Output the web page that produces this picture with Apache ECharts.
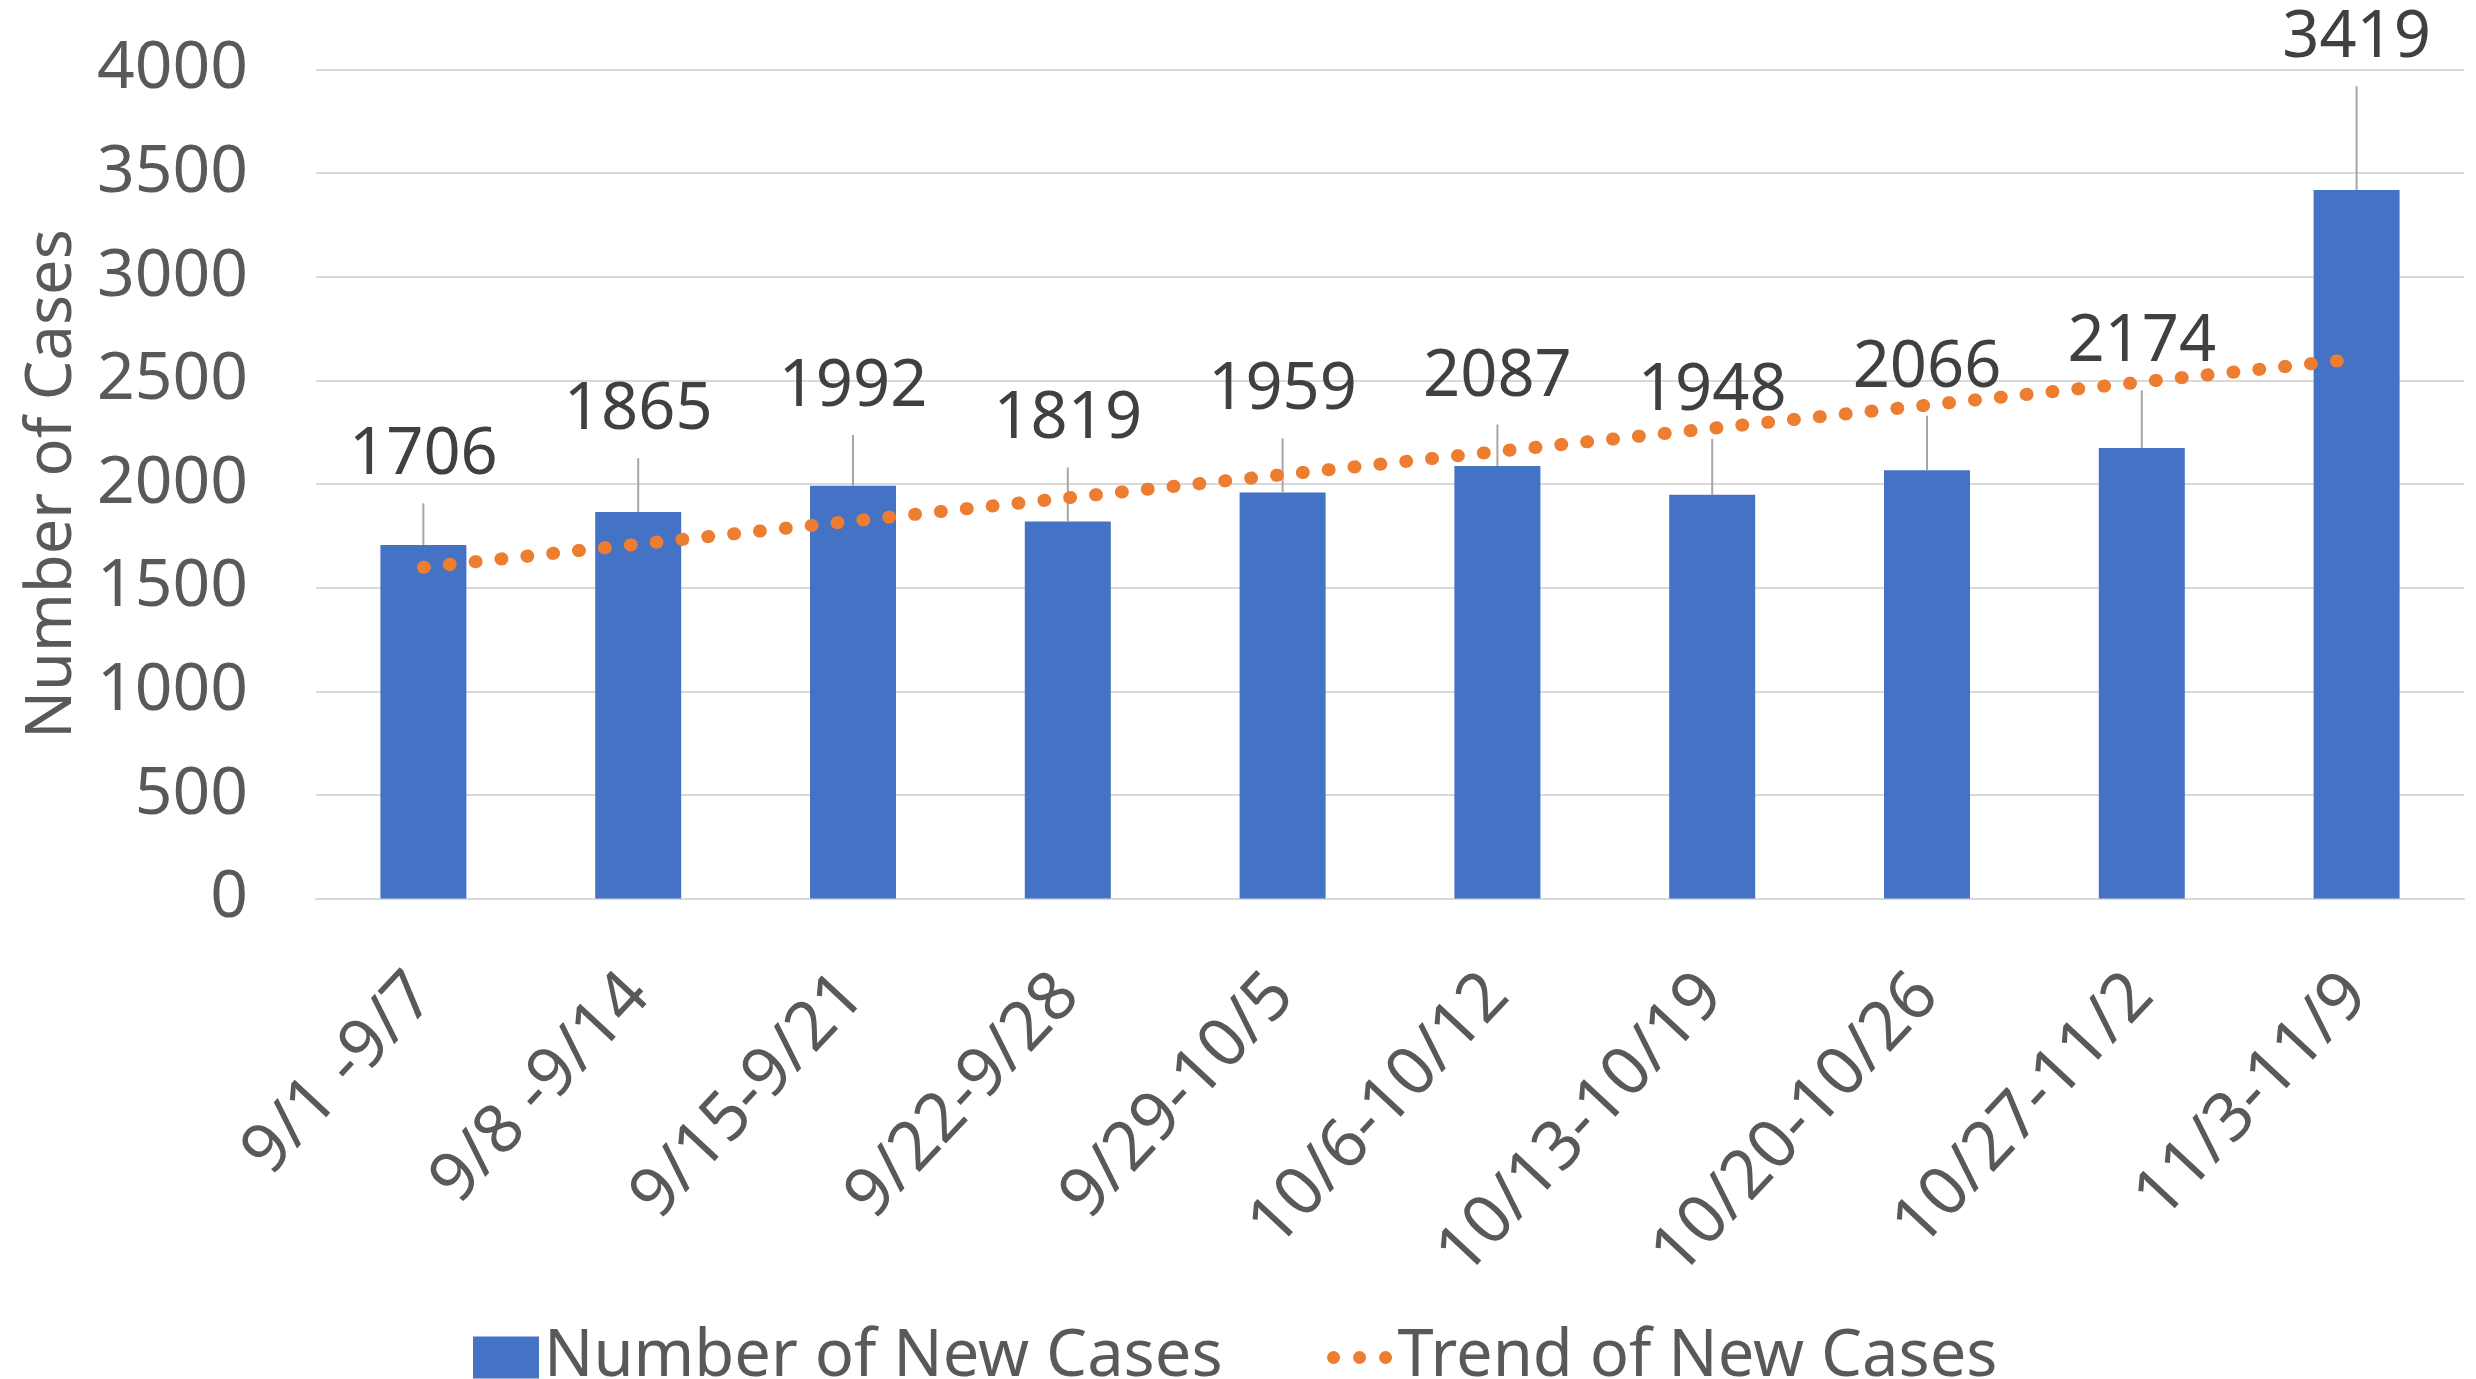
<!DOCTYPE html>
<html>
<head>
<meta charset="utf-8">
<title>Number of New Cases</title>
<script src="https://cdn.jsdelivr.net/npm/echarts@6/dist/echarts.min.js"></script>
<style>
  html, body { margin: 0; padding: 0; background: #fff; }
  #main { width: 2476px; height: 1379px; }
</style>
</head>
<body>
<div id="main"></div>
<script>
// weekly ranges
const weeks = ['9/1 -9/7', '9/8 -9/14', '9/15-9/21', '9/22-9/28', '9/29-10/5',
  '10/6-10/12', '10/13-10/19', '10/20-10/26', '10/27-11/2', '11/3-11/9'];
const newCases = [1706, 1865, 1992, 1819, 1959, 2087, 1948, 2066, 2174, 3419];
// upper error bar lengths
const errorPlus = [201, 260, 244, 261, 261, 200, 270, 263, 278, 500];
// dotted trend line, start and end
const trendStart = 1598;
const trendEnd = 2604;

// three dots for the trend legend icon (moveTo corners keep the 66x42 box)
const dotsIcon = 'path://M0 0M66 42' +
  'M0.5 21a6.5 6.5 0 1 0 13 0a6.5 6.5 0 1 0 -13 0Z' +
  'M26.5 21a6.5 6.5 0 1 0 13 0a6.5 6.5 0 1 0 -13 0Z' +
  'M52.5 21a6.5 6.5 0 1 0 13 0a6.5 6.5 0 1 0 -13 0Z';

document.addEventListener('DOMContentLoaded', function () {
  var chartDom = document.getElementById('main');
  var myChart = echarts.init(chartDom);
  var font = 'Noto Sans';

  const errorData = weeks.map((w, i) => [i, newCases[i], errorPlus[i]]);

  var option = {
    animation: false,
    textStyle: { fontFamily: font },
    grid: { left: 316, right: 12, top: 69.5, bottom: 480.5 },
    legend: {
      left: 468,
      top: 1320,
      itemWidth: 66,
      itemHeight: 42,
      itemGap: 104,
      textStyle: { fontSize: 65, color: '#595959', fontFamily: font },
      data: [
        { name: 'Number of New Cases', icon: 'rect' },
        { name: 'Trend of New Cases', icon: dotsIcon }
      ]
    },
    xAxis: {
      type: 'category',
      data: weeks,
      axisLine: { lineStyle: { color: '#D9D9D9', width: 2 } },
      axisTick: { show: false },
      axisLabel: {
        interval: 0,
        rotate: 47,
        margin: 86,
        fontSize: 68,
        color: '#595959',
        fontFamily: font
      }
    },
    yAxis: {
      type: 'value',
      min: 0,
      max: 4000,
      interval: 500,
      name: 'Number of Cases',
      nameLocation: 'middle',
      nameGap: 231,
      nameTextStyle: { fontSize: 63, color: '#595959', fontFamily: font },
      axisLine: { show: false },
      axisTick: { show: false },
      splitLine: { lineStyle: { color: '#D9D9D9', width: 2 } },
      axisLabel: {
        fontSize: 66,
        color: '#595959',
        margin: 68,
        fontFamily: font,
        formatter: function (v) { return String(v); }
      }
    },
    series: [
      {
        name: 'Number of New Cases',
        type: 'bar',
        barWidth: 86,
        itemStyle: { color: '#4472C4' },
        data: newCases,
        z: 2
      },
      {
        name: 'errors',
        type: 'custom',
        z: 3,
        data: errorData,
        renderItem: function (params, api) {
          const i = api.value(0);
          const base = api.coord([i, api.value(1)]);
          const top = api.coord([i, api.value(1) + api.value(2)]);
          return {
            type: 'group',
            children: [
              {
                type: 'line',
                shape: { x1: base[0], y1: base[1], x2: top[0], y2: top[1] },
                style: { stroke: '#A6A6A6', lineWidth: 2 }
              },
              {
                type: 'text',
                x: top[0],
                y: top[1] - 15,
                style: {
                  text: String(api.value(1)),
                  fontSize: 65,
                  fontFamily: font,
                  fill: '#404040',
                  align: 'center',
                  verticalAlign: 'bottom'
                }
              }
            ]
          };
        }
      },
      {
        name: 'Trend of New Cases',
        type: 'line',
        z: 4,
        symbol: 'none',
        data: [[weeks[0], trendStart], [weeks[weeks.length - 1], trendEnd]],
        itemStyle: { color: '#ED7D31' },
        lineStyle: { color: '#ED7D31', width: 13, type: [1, 25], cap: 'round' }
      }
    ]
  };

  option && myChart.setOption(option);
});
</script>
</body>
</html>
